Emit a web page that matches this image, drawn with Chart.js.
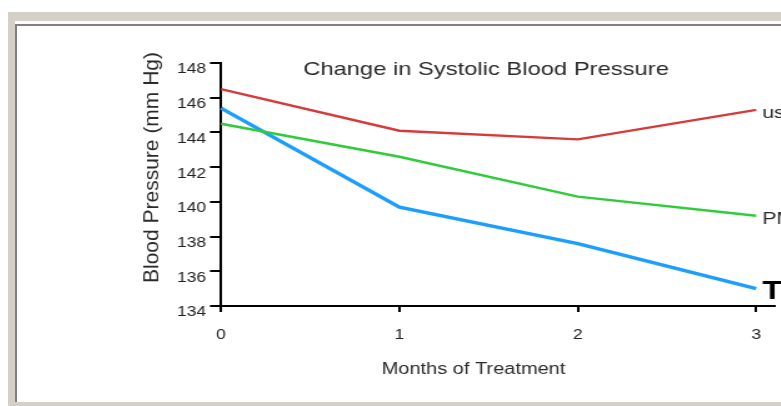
<!DOCTYPE html>
<html><head><meta charset="utf-8">
<script src="https://cdn.jsdelivr.net/npm/chart.js@4/dist/chart.umd.min.js"></script>
<style>
html,body{margin:0;padding:0;width:781px;height:406px;overflow:hidden;background:#fff;}
#frame{position:absolute;left:8px;top:12px;width:800px;height:394px;background:#d4d0c8;}
#inner{position:absolute;left:15px;top:21px;width:800px;height:381px;background:#fff;}
#lt{position:absolute;left:15px;top:24px;width:800px;height:2px;background:#808080;}
#ll{position:absolute;left:15px;top:24px;width:2px;height:378px;background:#808080;}
#wrap{position:absolute;left:17px;top:26px;width:700px;height:376px;transform:scaleX(1.25);transform-origin:0 0;}
canvas{display:block;}
</style></head>
<body>
<div id="frame"></div><div id="inner"></div><div id="lt"></div><div id="ll"></div>
<div id="wrap"><canvas id="c" width="700" height="376" style="width:700px;height:376px"></canvas></div>
<script>
// ---- data ----
const months = [0, 1, 2, 3];
const xTickLabels = ['0', '1', '2', '3'];
const yTickValues = [134, 136, 138, 140, 142, 144, 146, 148];
const usualCare = [146.5, 144.1, 143.6, 145.3];
const pmr = [144.5, 142.6, 140.3, 139.2];
const tm = [145.4, 139.7, 137.6, 135.0];
const seriesNames = ['usual care', 'PMR', 'TM'];
const chartTitle = 'Change in Systolic Blood Pressure';
const xTitle = 'Months of Treatment';
const yTitle = 'Blood Pressure (mm Hg)';

// ---- styling ----
const FONT = '"Liberation Sans", Arial, Helvetica, sans-serif';
const SX = 1.25;
const colors = ['#d63a3a', '#2fcc3a', '#1c9eff'];
const widths = [2.4, 2.4, 3.4];

function pts(arr){ return months.map((m, i) => ({x: m, y: arr[i]})); }

const textPlugin = {
  id: 'texts',
  afterDraw(chart) {
    const ctx = chart.ctx;
    const xs = chart.scales.x, ys = chart.scales.y;
    ctx.save();
    ctx.fillStyle = '#2a2a2a';
    ctx.textAlign = 'center';
    ctx.textBaseline = 'middle';
    ctx.font = '19px ' + FONT;
    ctx.fillText(chartTitle, (486 - 17) / SX, 44);
    ctx.font = '16px ' + FONT;
    ctx.fillText(xTitle, (473.5 - 17) / SX, 344);
    ctx.save();
    ctx.translate((153 - 17) / SX, 141.5);
    ctx.rotate(-Math.PI / 2);
    ctx.scale(1, 0.8);
    ctx.font = '21px ' + FONT;
    ctx.fillText(yTitle, 0, 0);
    ctx.restore();
    // line end labels
    ctx.textAlign = 'left';
    chart.data.datasets.forEach((ds, i) => {
      const last = ds.data[ds.data.length - 1];
      const px = xs.getPixelForValue(last.x) + 4.8;
      const py = ys.getPixelForValue(last.y) + (i === 2 ? 3 : 3.5);
      if (i === 2) { ctx.font = 'bold 26px ' + FONT; ctx.fillStyle = '#000'; }
      else { ctx.font = '17px ' + FONT; ctx.fillStyle = '#2a2a2a'; }
      ctx.fillText(seriesNames[i], px, py);
    });
    ctx.restore();
  }
};

new Chart(document.getElementById('c'), {
  type: 'line',
  data: {
    datasets: [
      {label: seriesNames[0], data: pts(usualCare)},
      {label: seriesNames[1], data: pts(pmr)},
      {label: seriesNames[2], data: pts(tm)}
    ].map((d, i) => Object.assign(d, {
      borderColor: colors[i], backgroundColor: colors[i], borderWidth: widths[i],
      pointRadius: 0, fill: false, tension: 0, clip: false
    }))
  },
  options: {
    responsive: false,
    animation: false,
    devicePixelRatio: 1,
    layout: {padding: {left: 0, top: 37, right: 94.4, bottom: 0}},
    plugins: {legend: {display: false}, title: {display: false}, tooltip: {enabled: false}},
    scales: {
      x: {
        type: 'linear', min: 0, max: 3.1,
        afterFit(s) { s.height = 96; },
        afterBuildTicks(s) { s.ticks = months.map(v => ({value: v})); },
        ticks: {
          stepSize: 1, includeBounds: false, maxRotation: 0, autoSkip: false,
          padding: 14.5, color: '#222', font: {family: FONT, size: 14},
          callback: (v, i) => xTickLabels[i]
        },
        grid: {drawOnChartArea: false, drawTicks: true, tickLength: 6, color: '#000', lineWidth: 2},
        border: {display: true, color: '#000', width: 2}
      },
      y: {
        min: 134, max: 148,
        afterFit(s) { s.width = 163.2; },
        afterBuildTicks(s) { s.ticks = yTickValues.map(v => ({value: v})); },
        ticks: {
          stepSize: 2, padding: 3, labelOffset: 6.5, color: '#222',
          font: {family: FONT, size: 14}
        },
        grid: {drawOnChartArea: false, drawTicks: true, tickLength: 8.8, color: '#000', lineWidth: 2},
        border: {display: true, color: '#000', width: 2}
      }
    }
  },
  plugins: [textPlugin]
});
</script>
</body></html>
